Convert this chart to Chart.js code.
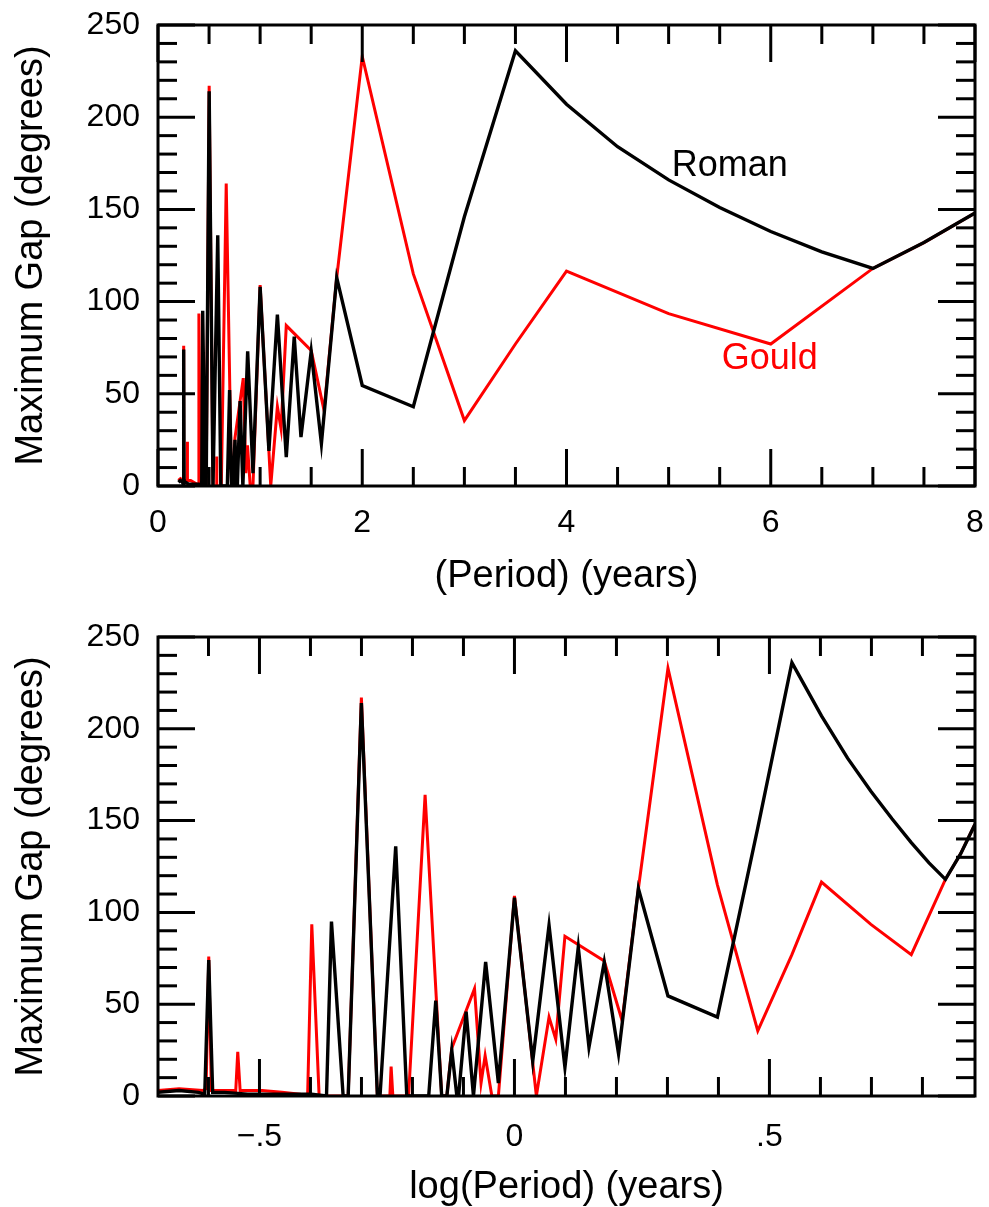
<!DOCTYPE html>
<html><head><meta charset="utf-8">
<script src="https://cdn.jsdelivr.net/npm/chart.js@4.4.1/dist/chart.umd.min.js"></script>
<style>
html,body{margin:0;padding:0;background:#fff;}
#wrap{position:relative;width:989px;height:1207px;overflow:hidden;}
.box{position:absolute;left:0;}
canvas{display:block;}
</style></head><body>
<div id="wrap">
  <div class="box" style="top:0"><canvas id="c1" width="989" height="600"></canvas></div>
  <div class="box" style="top:600px"><canvas id="c2" width="989" height="607"></canvas></div>
</div>
<script>
// ---------------- data ----------------
const romanPeriod = [0.200,0.220,0.240,0.247,0.2515,0.256,0.270,0.300,0.330,0.360,0.400,0.428,
  0.4377,0.4614,0.472,0.501,0.5386,0.545,0.585,0.615,0.679,0.701,0.720,0.737,0.7535,0.771,0.777,
  0.804,0.831,0.878,0.930,1.000,1.086,1.169,1.256,1.334,1.400,1.500,1.600,1.750,2.000,2.500,
  3.000,3.500,4.000,4.500,5.000,5.500,6.000,6.500,7.000,7.500,8.000];
const romanGap = [2,3,2,1,74,2,2,1,1,1,1,0,
  95,0,0,214,0,0,136,0,0,52,0,0,25,0,0,
  46,0,73,7,108,19,93,15.6,81,26.5,73,23,113,54.5,43,
  146,236,207,184,166,151,138,127,118,132,148];

const gouldPeriod = [0.200,0.220,0.245,0.2485,0.2515,0.2545,0.270,0.2841,0.2867,0.2898,0.320,0.350,
  0.380,0.393,0.4005,0.414,0.472,0.501,0.5386,0.5697,0.573,0.5775,0.620,0.668,0.720,0.737,0.7535,
  0.835,0.860,0.876,0.903,0.930,1.000,1.104,1.169,1.205,1.256,1.500,1.626,1.750,2.000,2.500,
  3.000,3.500,4.000,5.000,6.000,7.000,7.500,8.000];
const gouldGap = [3,4,3,4,76,3,3,3,24,3,3,2,
  1,0,93.5,0,0,217,0,0,16,0,0,164,0,0,26,
  58.5,7,22,0,0,109,0,43,31,87,73.5,41,113,233,115,
  35.5,77,116.5,93.5,77,118,132,148];

// axis ticks
const yTicks = [0,50,100,150,200,250];
const yMinor = [10,20,30,40,60,70,80,90,110,120,130,140,160,170,180,190,210,220,230,240];
const linXTicks = [0,2,4,6,8];
const linXMinor = [0.5,1,1.5,2.5,3,3.5,4.5,5,5.5,6.5,7,7.5];
const logXTicks = [-0.5,0,0.5];
const logXTickLabels = ['\u2212.5','0','.5'];
const logXMinor = [-0.6,-0.4,-0.3,-0.2,-0.1,0.1,0.2,0.3,0.4,0.6,0.7,0.8];

// text labels
const seriesNames = ['Roman','Gould'];
const seriesColors = ['#000000','#ff0000'];
const labelX = [5.03,5.52];
const labelY = [173.5,69];

const yTitle = 'Maximum Gap (degrees)';
const xTitleTop = '(Period) (years)';
const xTitleBottom = 'log(Period) (years)';

// ---------------- drawing ----------------
const FONT = "'Liberation Sans', Arial, Helvetica, sans-serif";
Chart.defaults.font.family = FONT;
Chart.defaults.color = '#000';

const MAJ = 37, MIN = 19;
const framePlugin = {
  id: 'frame',
  afterDatasetsDraw(chart, args, o) {
    const {ctx, chartArea: a, scales: {x, y}} = chart;
    ctx.save();
    ctx.strokeStyle = '#000';
    ctx.lineWidth = 3;
    ctx.lineCap = 'butt';
    const seg = (x1, y1, x2, y2) => { ctx.beginPath(); ctx.moveTo(x1, y1); ctx.lineTo(x2, y2); ctx.stroke(); };
    o.xMajor.forEach(v => { const p = x.getPixelForValue(v); seg(p, a.bottom, p, a.bottom - MAJ); seg(p, a.top, p, a.top + MAJ); });
    o.xMinor.forEach(v => { const p = x.getPixelForValue(v); seg(p, a.bottom, p, a.bottom - MIN); seg(p, a.top, p, a.top + MIN); });
    yTicks.forEach(v => { const p = y.getPixelForValue(v); seg(a.left, p, a.left + MAJ, p); seg(a.right, p, a.right - MAJ, p); });
    yMinor.forEach(v => { const p = y.getPixelForValue(v); seg(a.left, p, a.left + MIN, p); seg(a.right, p, a.right - MIN, p); });
    ctx.strokeRect(a.left, a.top, a.right - a.left, a.bottom - a.top);
    if (o.labels) {
      ctx.font = '36px ' + FONT;
      ctx.textBaseline = 'middle';
      ctx.textAlign = 'left';
      seriesNames.forEach((t, i) => {
        ctx.fillStyle = seriesColors[i];
        ctx.fillText(t, x.getPixelForValue(labelX[i]), y.getPixelForValue(labelY[i]));
      });
    }
    ctx.restore();
  }
};

function makeChart(id, canvasH, top, bottom, xScale, xMap, frameOpts) {
  const toPts = (ps, gs) => ps.map((p, i) => ({x: xMap(p), y: gs[i]}));
  return new Chart(document.getElementById(id), {
    type: 'line',
    data: {
      datasets: [
        {label: seriesNames[1], data: toPts(gouldPeriod, gouldGap), borderColor: seriesColors[1],
         borderWidth: 3, pointRadius: 0, tension: 0, order: 2},
        {label: seriesNames[0], data: toPts(romanPeriod, romanGap), borderColor: seriesColors[0],
         borderWidth: 3.4, pointRadius: 0, tension: 0, order: 1}
      ]
    },
    options: {
      responsive: false, animation: false, devicePixelRatio: 1,
      parsing: false,
      layout: {padding: {left: 0, right: 989 - 975, top: top, bottom: 0}},
      plugins: {legend: {display: false}, tooltip: {enabled: false}, frame: frameOpts},
      scales: {
        x: Object.assign({
          type: 'linear', position: 'bottom',
          grid: {display: false, drawTicks: false}, border: {display: false},
          afterFit: s => { s.height = canvasH - bottom; s.paddingLeft = 0; s.paddingRight = 0; }
        }, xScale),
        y: {
          type: 'linear', min: 0, max: 250,
          grid: {display: false, drawTicks: false}, border: {display: false},
          afterBuildTicks: s => { s.ticks = yTicks.map(v => ({value: v})); },
          ticks: {font: {size: 32}, padding: 18, color: '#000'},
          title: {display: true, text: yTitle, font: {size: 38, lineHeight: 1.0}, padding: {top: 13, bottom: 0}, color: '#000'},
          afterFit: s => { s.width = 158; s.paddingTop = 0; s.paddingBottom = 0; }
        }
      }
    },
    plugins: [framePlugin]
  });
}

makeChart('c1', 600, 25, 486, {
  min: 0, max: 8,
  afterBuildTicks: s => { s.ticks = linXTicks.map(v => ({value: v})); },
  ticks: {font: {size: 32}, padding: 18, maxRotation: 0, autoSkip: false, color: '#000'},
  title: {display: true, text: xTitleTop, font: {size: 38, lineHeight: 1.0}, padding: {top: 0, bottom: 4}, color: '#000'}
}, p => p, {xMajor: linXTicks, xMinor: linXMinor, labels: true});

makeChart('c2', 607, 37, 496, {
  min: Math.log10(0.2), max: Math.log10(8),
  afterBuildTicks: s => { s.ticks = logXTicks.map(v => ({value: v})); },
  ticks: {font: {size: 32}, padding: 22, maxRotation: 0, autoSkip: false, color: '#000',
          callback: (v, i) => logXTickLabels[i]},
  title: {display: true, text: xTitleBottom, font: {size: 38, lineHeight: 1.0}, padding: {top: 0, bottom: 0}, color: '#000'}
}, p => Math.log10(p), {xMajor: logXTicks, xMinor: logXMinor, labels: false});
</script>
</body></html>
